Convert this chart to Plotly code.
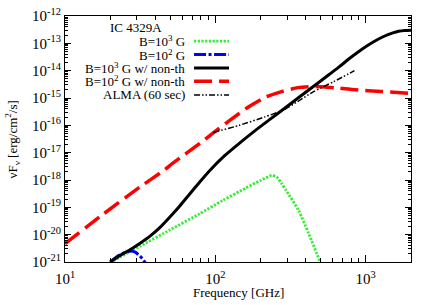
import plotly.graph_objects as go

# ---- data ----
freq_b3 = [20, 22.9, 26.9, 31.4, 36.6, 42.7, 49.5, 57.8, 67.3, 78.3, 91.2, 114.8, 144.2, 181.1,
           228, 281.8, 354.8, 452.9, 562.3, 662.2, 794.3, 970.5, 1122, 1315, 1514, 1656, 1820, 2000]
flux_b3 = [1.0e-21, 1.66e-21, 2.75e-21, 4.79e-21, 8.71e-21, 1.82e-20, 4.27e-20, 1.10e-19, 3.02e-19,
           8.13e-19, 2.14e-18, 7.59e-18, 2.19e-17, 6.03e-17, 1.58e-16, 3.80e-16, 1.0e-15, 2.75e-15,
           6.76e-15, 1.35e-14, 3.02e-14, 6.76e-14, 1.12e-13, 1.78e-13, 2.40e-13, 2.75e-13, 2.95e-13, 3.02e-13]

freq_b2 = [10, 17.95, 31.6, 45.9, 49.5, 63.1, 79.4, 96, 125.9, 167.9, 213.8, 279.3, 354.8, 464.5,
           631, 851, 1259, 2000]
flux_b2 = [4.68e-21, 5.62e-20, 5.62e-19, 2.34e-18, 3.31e-18, 8.91e-18, 2.24e-17, 5.13e-17, 1.58e-16,
           4.90e-16, 1.05e-15, 1.74e-15, 2.40e-15, 2.63e-15, 2.34e-15, 2.0e-15, 1.74e-15, 1.48e-15]

freq_th3 = [20, 23.1, 31.6, 50.1, 78.3, 111.7, 158.5, 199.5, 237, 257, 275.4, 293.8, 356.5, 416.9, 497.7, 524.8]
flux_th3 = [9.33e-22, 1.48e-21, 3.80e-21, 1.51e-20, 5.75e-20, 1.78e-19, 5.01e-19, 9.55e-19, 1.48e-18,
            1.26e-18, 7.59e-19, 4.37e-19, 7.94e-20, 1.12e-20, 1.0e-21, 5.0e-22]

freq_th2 = [20, 21.9, 24, 26.3, 27.5, 29.5, 31.4, 32.7, 33.9, 35.5]
flux_th2 = [1.0e-21, 1.51e-21, 2.04e-21, 2.40e-21, 2.51e-21, 2.24e-21, 1.66e-21, 1.32e-21, 1.0e-21, 6.3e-22]

freq_alma = [97, 144.2, 211.3, 286.4, 354.8, 452.9, 613.8, 841.4]
flux_alma = [5.50e-17, 1.0e-16, 2.0e-16, 3.72e-16, 7.59e-16, 1.74e-15, 3.98e-15, 1.0e-14]

x_tickvals = [10, 100, 1000]
x_ticktext = ["10<sup>1</sup>", "10<sup>2</sup>", "10<sup>3</sup>"]
y_exps = list(range(-21, -11))
y_tickvals = [10.0 ** e for e in y_exps]
y_ticktext = ["10<sup>%d</sup>" % e for e in y_exps]

labels = ["B=10<sup>3</sup> G", "B=10<sup>2</sup> G", "B=10<sup>3</sup> G w/ non-th",
          "B=10<sup>2</sup> G w/ non-th", "ALMA (60 sec)"]
title_text = "IC 4329A"
x_title = "Frequency [GHz]"
y_title = "νF<sub>ν</sub> [erg/cm<sup>2</sup>/s]"

# ---- styles ----
FONT = "Liberation Serif"
styles = [
    dict(color="#33ee33", width=2.8, dash="2.2px,1.5px"),
    dict(color="#0000ff", width=3, dash="12px,2.5px,3px,2.5px"),
    dict(color="#000000", width=3, dash="solid"),
    dict(color="#ff0000", width=3.5, dash="18px,7px"),
    dict(color="#000000", width=1.5, dash="6px,2px,1.5px,2px,1.5px,2px"),
]
series = [(freq_th3, flux_th3), (freq_th2, flux_th2), (freq_b3, flux_b3),
          (freq_b2, flux_b2), (freq_alma, flux_alma)]

fig = go.Figure()
order = [0, 1, 3, 4, 2]
for i in order:
    fx, fy = series[i]
    line = dict(styles[i], shape="spline", smoothing=0.6)
    fig.add_trace(go.Scatter(x=fx, y=fy, mode="lines", line=line, showlegend=False,
                             name=labels[i]))

minor_x = [m * 10.0 ** k for k in range(1, 4) for m in range(2, 10) if m * 10.0 ** k <= 2000]
minor_y = [m * 10.0 ** k for k in range(-21, -12) for m in range(2, 10)]

fig.update_layout(
    width=436, height=305,
    margin=dict(l=65, r=25, t=16, b=43),
    paper_bgcolor="white", plot_bgcolor="white",
    font=dict(family=FONT, size=13, color="black"),
    xaxis=dict(type="log", range=[1, 3.30103], tickvals=x_tickvals, ticktext=x_ticktext,
               ticks="inside", ticklen=7, tickwidth=1, tickcolor="black",
               showline=True, linecolor="black", linewidth=1, mirror="allticks",
               showgrid=False, zeroline=False, automargin=False,
               ticklabelstandoff=3,
               minor=dict(tickvals=minor_x, ticks="inside", ticklen=4, tickcolor="black", showgrid=False),
               tickfont=dict(family=FONT, size=15)),
    yaxis=dict(type="log", range=[-21, -12], tickvals=y_tickvals, ticktext=y_ticktext,
               ticks="inside", ticklen=6, tickwidth=1, tickcolor="black",
               showline=True, linecolor="black", linewidth=1, mirror="allticks",
               showgrid=False, zeroline=False, automargin=False,
               minor=dict(tickvals=minor_y, ticks="inside", ticklen=3, tickcolor="black", showgrid=False),
               tickfont=dict(family=FONT, size=15)),
)

# ---- axis titles ----
fig.add_annotation(text=x_title, xref="paper", yref="paper", x=0.5, y=-0.122,
                   showarrow=False, xanchor="center", yanchor="middle",
                   font=dict(family=FONT, size=13))
fig.add_annotation(text=y_title, xref="paper", yref="paper", x=-0.152, y=0.5,
                   showarrow=False, xanchor="center", yanchor="middle", textangle=-90,
                   font=dict(family=FONT, size=13))

# ---- legend (gnuplot style: text right-aligned, sample on the right) ----
fig.add_annotation(text=title_text, xref="paper", yref="paper", x=0.205, y=0.955,
                   showarrow=False, xanchor="center", yanchor="middle",
                   font=dict(family=FONT, size=13))
row_y = [0.898, 0.843, 0.789, 0.735, 0.679]
for i in range(5):
    fig.add_annotation(text=labels[i], xref="paper", yref="paper", x=0.352, y=row_y[i],
                       showarrow=False, xanchor="right", yanchor="middle",
                       font=dict(family=FONT, size=13))
    fig.add_shape(type="line", xref="paper", yref="paper", x0=0.373, x1=0.474,
                  y0=row_y[i], y1=row_y[i], line=styles[i])

fig.write_html("out.html", config={"displayModeBar": False},
               post_script="document.body.style.margin='0';document.body.style.overflow='hidden';")
